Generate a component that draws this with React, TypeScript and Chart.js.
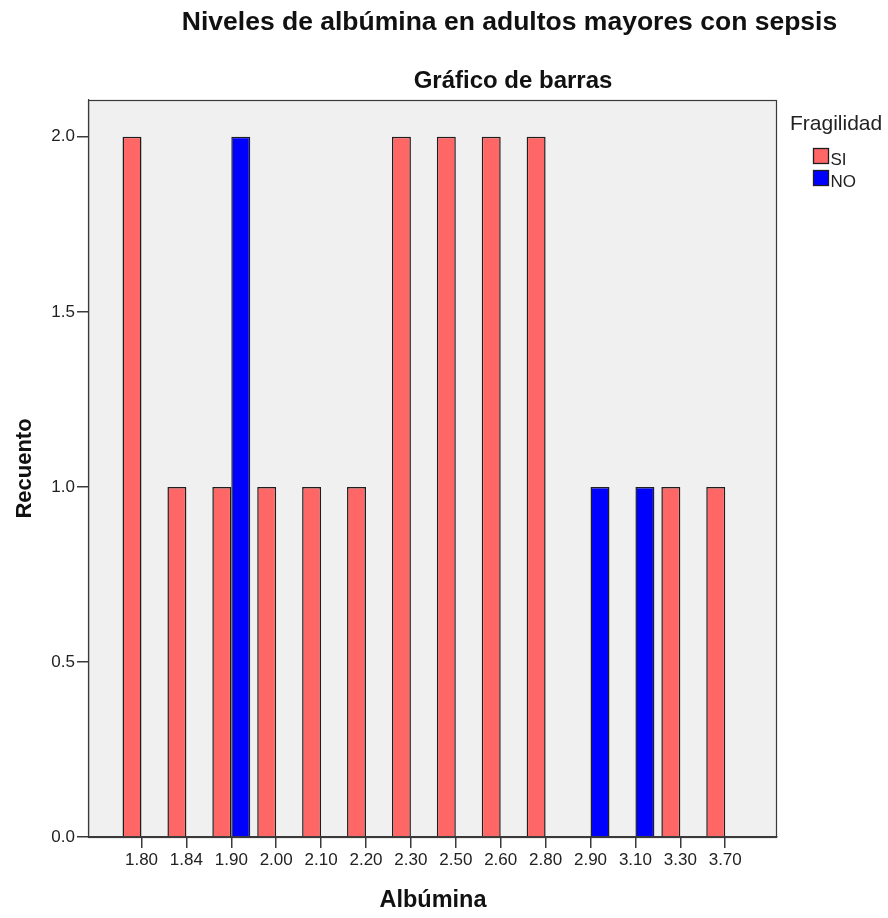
import React, { useEffect, useRef } from "react";
import { Chart, registerables } from "chart.js";

Chart.register(...registerables);

const albuminaLabels = ["1.80", "1.84", "1.90", "2.00", "2.10", "2.20", "2.30", "2.50", "2.60", "2.80", "2.90", "3.10", "3.30", "3.70"];
const siCounts = [2, 1, 1, 1, 1, 1, 2, 2, 2, 2, 0, 0, 1, 1];
const noCounts = [0, 0, 2, 0, 0, 0, 0, 0, 0, 0, 1, 1, 0, 0];
const yTicks = [0, 0.5, 1.0, 1.5, 2.0];
const seriesNames = ["SI", "NO"];
const mainTitle = "Niveles de albúmina en adultos mayores con sepsis";
const subTitle = "Gráfico de barras";
const legendTitle = "Fragilidad";

const FONT = "'Liberation Sans', Arial, sans-serif";
const AXIS = "#3a3a3a";

const decorPlugin = {
  id: "decor",
  beforeDraw(chart: any) {
    const { ctx, chartArea } = chart;
    const { left, top, right, bottom } = chartArea;
    ctx.save();
    ctx.fillStyle = "#ffffff";
    ctx.fillRect(0, 0, chart.width, chart.height);
    ctx.fillStyle = "#f0f0f0";
    ctx.fillRect(left, top, right - left, bottom - top);
    ctx.restore();
  },
  afterDraw(chart: any) {
    const { ctx, chartArea } = chart;
    const { left, top, right, bottom } = chartArea;
    ctx.save();
    ctx.strokeStyle = AXIS;
    ctx.lineWidth = 1.2;
    ctx.strokeRect(Math.round(left) - 0.5, Math.round(top) + 0.5, Math.round(right - left), Math.round(bottom - top));

    // titles
    ctx.fillStyle = "#111111";
    ctx.textAlign = "center";
    ctx.textBaseline = "alphabetic";
    ctx.font = `bold 26.5px ${FONT}`;
    ctx.fillText(mainTitle, 509.5, 29.5);
    ctx.font = `bold 24px ${FONT}`;
    ctx.fillText(subTitle, 513, 87.5);

    // legend
    const lx = right + 13;
    ctx.textAlign = "left";
    ctx.font = `21px ${FONT}`;
    ctx.fillStyle = "#222222";
    ctx.fillText(legendTitle, lx, 130);
    const ds = chart.data.datasets;
    ds.forEach((d: any, i: number) => {
      const by = 148 + i * 22;
      const bx = lx + 23;
      ctx.fillStyle = d.backgroundColor;
      ctx.fillRect(bx, by, 16, 16);
      ctx.strokeStyle = "#1e1e1e";
      ctx.lineWidth = 1.3;
      ctx.strokeRect(bx + 0.5, by + 0.5, 15, 15);
      ctx.fillStyle = "#222222";
      ctx.font = `17px ${FONT}`;
      ctx.fillText(d.label, bx + 17.5, by + 16.5);
    });
    ctx.restore();
  },
};

export default function App() {
  const canvasRef = useRef<HTMLCanvasElement | null>(null);

  useEffect(() => {
    if (!canvasRef.current) return;
    const toPoints = (arr: number[]) =>
      arr.map((v, i) => ({ x: i, y: v === 0 ? null : v }));

    const chart = new Chart(canvasRef.current, {
      type: "bar",
      data: {
        datasets: [
          {
            label: seriesNames[0],
            data: toPoints(siCounts) as any,
            backgroundColor: "#ff6666",
            borderColor: "#1e1e1e",
            borderWidth: 1.5,
            borderSkipped: "bottom",
          },
          {
            label: seriesNames[1],
            data: toPoints(noCounts) as any,
            backgroundColor: "#0000ff",
            borderColor: "#1e1e1e",
            borderWidth: 1.5,
            borderSkipped: "bottom",
          },
        ],
      },
      options: {
        animation: false,
        responsive: true,
        maintainAspectRatio: false,
        devicePixelRatio: 1,
        layout: { padding: { left: 0, top: 100, right: 111, bottom: 0 } },
        datasets: {
          bar: { categoryPercentage: 0.845, barPercentage: 1.0 },
        },
        plugins: {
          legend: { display: false },
          title: { display: false },
          tooltip: { enabled: false },
        },
        scales: {
          x: {
            type: "linear",
            min: -1.169,
            max: 14.153,
            offset: false,
            afterFit: (scale: any) => {
              scale.height = 81;
            },
            afterBuildTicks: (scale: any) => {
              scale.ticks = albuminaLabels.map((_, i) => ({ value: i }));
            },
            ticks: {
              autoSkip: false,
              maxRotation: 0,
              minRotation: 0,
              padding: 2,
              color: "#222222",
              font: { family: FONT, size: 17 },
              callback: (value: any) => albuminaLabels[Math.round(Number(value))] ?? "",
            },
            grid: {
              offset: false,
              drawOnChartArea: false,
              drawTicks: true,
              tickLength: 11,
              color: AXIS,
              lineWidth: 1.5,
            },
            border: { display: true, color: AXIS, width: 1.2 },
            title: {
              display: true,
              text: "Albúmina",
              color: "#111111",
              font: { family: FONT, size: 23.5, weight: "bold" },
              padding: { top: 0, bottom: 3 },
            },
          },
          y: {
            type: "linear",
            min: 0,
            max: 2.105,
            afterFit: (scale: any) => {
              scale.width = 89;
            },
            afterBuildTicks: (scale: any) => {
              scale.ticks = yTicks.map((v) => ({ value: v }));
            },
            ticks: {
              padding: 2,
              color: "#222222",
              font: { family: FONT, size: 17 },
              callback: (value: any) => Number(value).toFixed(1),
            },
            grid: {
              drawOnChartArea: false,
              drawTicks: true,
              tickLength: 12,
              color: AXIS,
              lineWidth: 1.5,
            },
            border: { display: true, color: AXIS, width: 1.2 },
            title: {
              display: true,
              text: "Recuento",
              color: "#111111",
              font: { family: FONT, size: 22, weight: "bold" },
              padding: { top: 12, bottom: 0 },
            },
          },
        },
      },
      plugins: [decorPlugin],
    });
    return () => chart.destroy();
  }, []);

  return (
    <div style={{ position: "fixed", left: 0, top: 0, width: 888, height: 918, background: "#fff" }}>
      <canvas ref={canvasRef} />
    </div>
  );
}
